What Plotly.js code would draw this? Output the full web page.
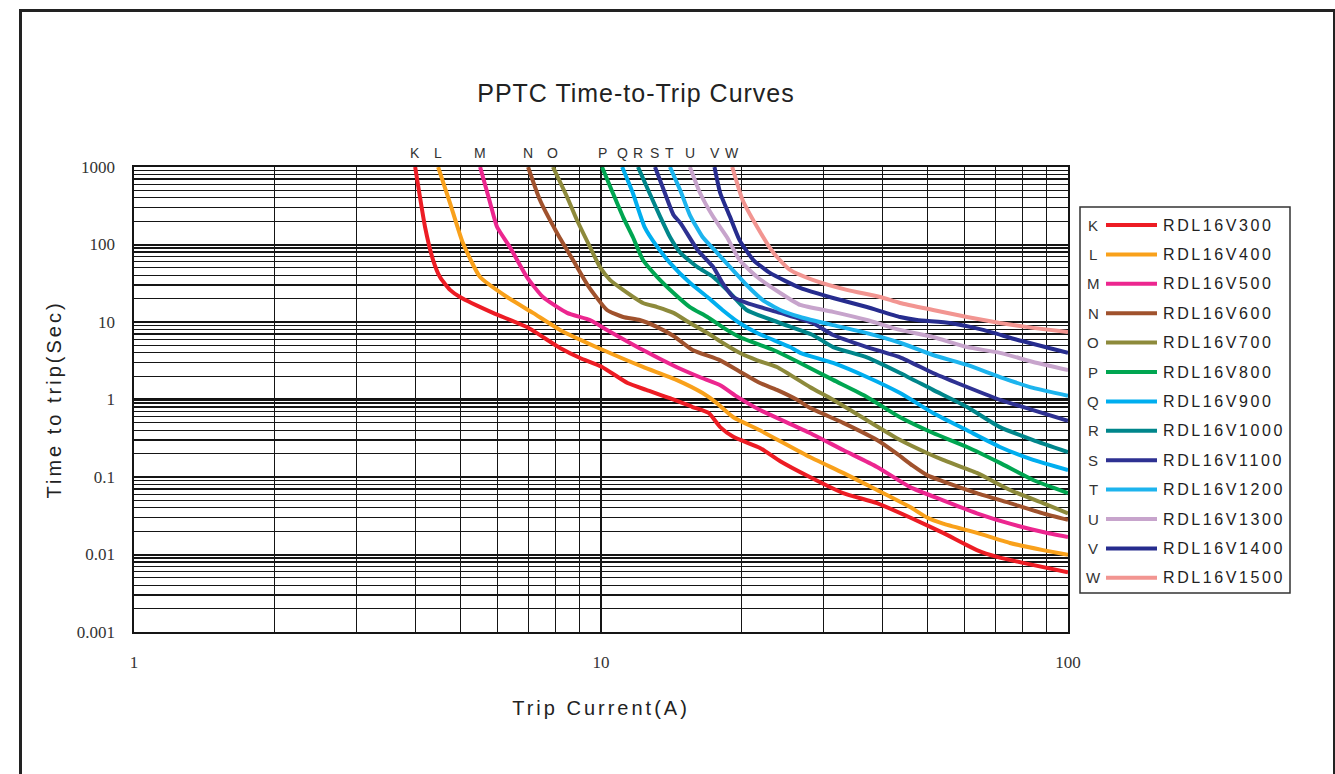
<!DOCTYPE html>
<html><head><meta charset="utf-8">
<script src="https://cdn.plot.ly/plotly-3.0.1.min.js"></script>
<style>
html,body{margin:0;padding:0;background:#fff;overflow:hidden;}
#chart{width:1335px;height:774px;position:absolute;left:0;top:0;}
#frame{position:absolute;left:19px;top:9px;width:1311px;height:820px;border:3px solid #222;border-bottom:none;pointer-events:none;}
.xtitle,.ytitle{letter-spacing:3px;}
.gtitle{letter-spacing:1px;}
</style></head><body>
<div id="chart"></div><div id="frame"></div>
<script>
// ---- data (Trip current in A, time to trip in s) ----
const codes  = ['K','L','M','N','O','P','Q','R','S','T','U','V','W'];
const models = ['RDL16V300','RDL16V400','RDL16V500','RDL16V600','RDL16V700','RDL16V800','RDL16V900',
                'RDL16V1000','RDL16V1100','RDL16V1200','RDL16V1300','RDL16V1400','RDL16V1500'];
const colors = ['#ED1C24','#F9A11B','#EC268F','#A0522D','#8D8A3B','#00A651','#00AEEF',
                '#00868B','#2E3192','#1DB4EE','#C7A4CC','#262C8E','#F29591'];

const current_K = [4.0,4.2,4.37,4.52,4.75,4.99,5.87,6.94,8.17,9.02,10.05,11.4,12.5,14.05,15.7,17.0,18.0,19.2,21.9,24.2,28,33,39,45.9,54,63.8,70.5,80.1,100];
const time_K    = [1000,168,63,38,26,21,13.1,8.6,4.62,3.43,2.63,1.63,1.33,1.04,0.80,0.67,0.44,0.33,0.237,0.16,0.1,0.062,0.046,0.030,0.019,0.0114,0.0093,0.0078,0.0059];

const current_L = [4.48,4.75,5.06,5.51,6.29,7.15,8.17,10.1,12.3,14.5,16.5,17.7,19.2,21.9,28,33,39,45.9,49.9,54,63.8,75.1,88.4,100];
const time_L    = [1000,343,105,38,21,13.1,7.9,4.35,2.63,1.79,1.21,0.90,0.59,0.40,0.181,0.113,0.068,0.041,0.030,0.025,0.019,0.0141,0.0114,0.0099];

const current_M = [5.51,5.79,5.99,6.38,6.94,7.51,8.46,9.47,10.3,12.3,14.5,16.5,18.0,19.6,21.9,28,33,39,45.9,54,63.8,75.1,88.4,100];
const time_M    = [1000,343,168,93,38,21,13.1,10.6,7.9,4.35,2.63,1.88,1.53,1.08,0.73,0.37,0.223,0.135,0.074,0.05,0.034,0.025,0.0195,0.0168];

const current_N = [6.98,7.4,8.05,8.71,9.36,10.3,11.15,12.1,13.2,14.3,15.7,18.0,19.8,21.9,23.8,26.3,28,33,39,43,46.5,50,54,63.8,75.1,88.4,100];
const time_N    = [1000,375,141,63,30,14.3,11.6,10.6,8.6,6.6,4.35,3.2,2.3,1.63,1.33,0.99,0.78,0.50,0.30,0.20,0.14,0.105,0.088,0.062,0.046,0.034,0.028];

const current_O = [7.89,8.46,8.88,9.47,9.95,10.45,11.15,12.3,13.2,14.3,15.5,16.9,18.2,19.8,21.6,23.8,28,31.4,37.1,43.7,49.9,54,63.8,75.1,88.4,100];
const time_O    = [1000,410,207,93,51,35,26,17.6,15.6,13.1,9.7,7.2,5.4,4.0,3.2,2.63,1.45,0.99,0.54,0.30,0.204,0.166,0.113,0.068,0.046,0.034];

const current_P = [10.05,10.6,11.15,11.7,12.3,13.2,14.3,15.5,16.9,18.2,19.8,23.4,26.7,31.4,37.1,43.7,51.4,60.8,71.5,84.2,100];
const time_P    = [1000,462,226,125,63,38,23.7,15.6,11.6,8.6,6.4,4.35,2.96,1.79,1.08,0.59,0.37,0.244,0.152,0.0915,0.062];

const current_Q = [11.1,11.7,12.4,13.2,14.05,15.5,16.9,18.2,19.8,21.6,25.4,26.7,31.4,37.1,43.7,51.4,60.8,71.5,84.2,100];
const time_Q    = [1000,462,168,93,58,32,21,14.3,9.7,7.2,4.75,4.0,2.96,1.95,1.21,0.67,0.40,0.244,0.166,0.123];

const current_R = [12.0,12.7,13.4,14.05,14.8,16.1,17.4,18.9,20.5,24.2,28.4,31.4,37.1,43.7,51.4,60.8,71.5,84.2,100];
const time_R    = [1000,462,226,125,78,51,38,23.7,14.3,9.7,6.8,4.75,3.5,2.2,1.33,0.80,0.44,0.30,0.21];

const current_S = [13.05,13.6,14.3,14.8,16.1,17.4,18.2,19.2,20.5,24.2,28.4,31.4,37.1,43.7,51.4,60.8,71.5,84.2,100];
const time_S    = [1000,520,240,189,85,51,32,21,17.6,13.1,9.7,6.8,4.75,3.5,2.2,1.45,0.99,0.73,0.53];

const current_T = [14.05,14.8,15.5,16.5,17.5,18.9,20.5,22.2,24.2,26.7,31.4,37.1,43.7,51.4,60.8,71.5,84.2,100];
const time_T    = [1000,490,240,125,85,51,30,19.2,14.3,11.6,9.1,7.2,5.4,3.75,2.79,1.95,1.41,1.12];

const current_U = [15.5,16.3,17.4,18.6,19.8,21.6,24.2,26.7,31.4,37.1,43.7,51.4,60.8,71.5,84.2,100];
const time_U    = [1000,462,226,125,63,38,23.7,16.6,13.5,10.6,7.9,6.4,4.75,4.0,3.05,2.4];

const current_V = [17.5,18.0,18.9,19.8,21.2,23.0,26.7,31.4,37.1,43.7,47.5,55.9,65.8,77.8,100];
const time_V    = [1000,462,226,114,63,43,27.5,20.4,15.6,11.6,10.6,9.7,7.9,5.9,4.0];

const current_W = [19.1,20.1,21.6,23.4,25.4,28.4,33.6,39.6,43.7,51.4,60.8,71.5,84.2,100];
const time_W    = [1000,375,168,78,47,35,26,21,17.6,14.3,11.6,9.7,8.4,7.4];

const currents = [current_K,current_L,current_M,current_N,current_O,current_P,current_Q,current_R,current_S,current_T,current_U,current_V,current_W];
const times    = [time_K,time_L,time_M,time_N,time_O,time_P,time_Q,time_R,time_S,time_T,time_U,time_V,time_W];

const yTickVals = [0.001,0.01,0.1,1,10,100,1000];
const yTickText = ['0.001','0.01','0.1','1','10','100','1000'];
const xTickVals = [1,10,100];
const xTickText = ['1','10','100'];

// ---- layout helpers (pixel -> paper, plot area 134..1068 x 167..632) ----
const PL=134, PR=1068, PT=167, PB=632;
const px = v => (v-PL)/(PR-PL);
const py = v => (PB-v)/(PB-PT);

const traces = codes.map((c,i)=>({
  type:'scatter', mode:'lines', name:models[i],
  x:currents[i], y:times[i],
  line:{color:colors[i], width:4, shape:'spline', smoothing:0.5},
  showlegend:false, hoverinfo:'x+y+name'
}));

const annotations = [];
const shapes = [];
// curve letters above the plot
codes.forEach((c,i)=>{
  annotations.push({xref:'x', yref:'paper', x:Math.log10(currents[i][0]), y:1,
    xanchor:'center', yanchor:'bottom', yshift:4, showarrow:false, text:c,
    font:{family:'Liberation Sans, Arial, sans-serif', size:14, color:'#333'}});
});
// thick line at 1 s
shapes.push({type:'line', xref:'paper', yref:'paper', x0:0, x1:1, y0:0.5, y1:0.5,
  line:{color:'#111', width:3}, layer:'below'});
// legend box
shapes.push({type:'rect', xref:'paper', yref:'paper', x0:px(1080), x1:px(1290), y0:py(593), y1:py(207),
  line:{color:'#333', width:1.5}, fillcolor:'rgba(0,0,0,0)'});
codes.forEach((c,i)=>{
  const yy = py(225 + i*29.4);
  annotations.push({xref:'paper', yref:'paper', x:px(1093), y:yy, xanchor:'center', yanchor:'middle',
    showarrow:false, text:c, font:{family:'Liberation Sans, Arial, sans-serif', size:15, color:'#333'}});
  shapes.push({type:'line', xref:'paper', yref:'paper', x0:px(1106), x1:px(1157), y0:yy, y1:yy,
    line:{color:colors[i], width:4}});
  annotations.push({xref:'paper', yref:'paper', x:px(1161), y:yy, xanchor:'left', yanchor:'middle',
    showarrow:false, text:'<span style="letter-spacing:2.6px">'+models[i]+'</span>',
    font:{family:'Liberation Sans, Arial, sans-serif', size:16, color:'#222'}});
});

const gridC = '#151515';
const layout = {
  width:1335, height:774,
  margin:{l:PL, r:1335-PR, t:PT, b:774-PB},
  paper_bgcolor:'#fff', plot_bgcolor:'#fff',
  title:{text:'PPTC Time-to-Trip Curves', xref:'container', yref:'container',
    x:636/1335, y:1-93/774, xanchor:'center', yanchor:'middle',
    font:{family:'Liberation Sans, Arial, sans-serif', size:25, color:'#222'}},
  xaxis:{type:'log', range:[0,2], tickmode:'array', tickvals:xTickVals, ticktext:xTickText,
    showgrid:true, gridcolor:gridC, gridwidth:1.6,
    minor:{dtick:'D1', showgrid:true, gridcolor:gridC, gridwidth:1.3, ticks:''},
    showline:true, linecolor:gridC, linewidth:1.6, mirror:true, ticks:'',
    ticklabelstandoff:14,
    tickfont:{family:'Liberation Serif, Times New Roman, serif', size:17, color:'#333'},
    title:{text:'Trip Current(A)', standoff:30,
      font:{family:'Liberation Sans, Arial, sans-serif', size:20, color:'#222'}},
    zeroline:false, automargin:false, fixedrange:true},
  yaxis:{type:'log', range:[-3,3], tickmode:'array', tickvals:yTickVals, ticktext:yTickText,
    showgrid:true, gridcolor:gridC, gridwidth:2,
    minor:{dtick:'D1', showgrid:true, gridcolor:gridC, gridwidth:1.2, ticks:''},
    showline:true, linecolor:gridC, linewidth:1.6, mirror:true, ticks:'',
    ticklabelstandoff:14,
    tickfont:{family:'Liberation Serif, Times New Roman, serif', size:17, color:'#333'},
    title:{text:'Time to trip(Sec)', standoff:10,
      font:{family:'Liberation Sans, Arial, sans-serif', size:20, color:'#222'}},
    zeroline:false, automargin:false, fixedrange:true},
  annotations:annotations, shapes:shapes, showlegend:false
};
Plotly.newPlot('chart', traces, layout, {displayModeBar:false, staticPlot:true});
</script>
</body></html>
